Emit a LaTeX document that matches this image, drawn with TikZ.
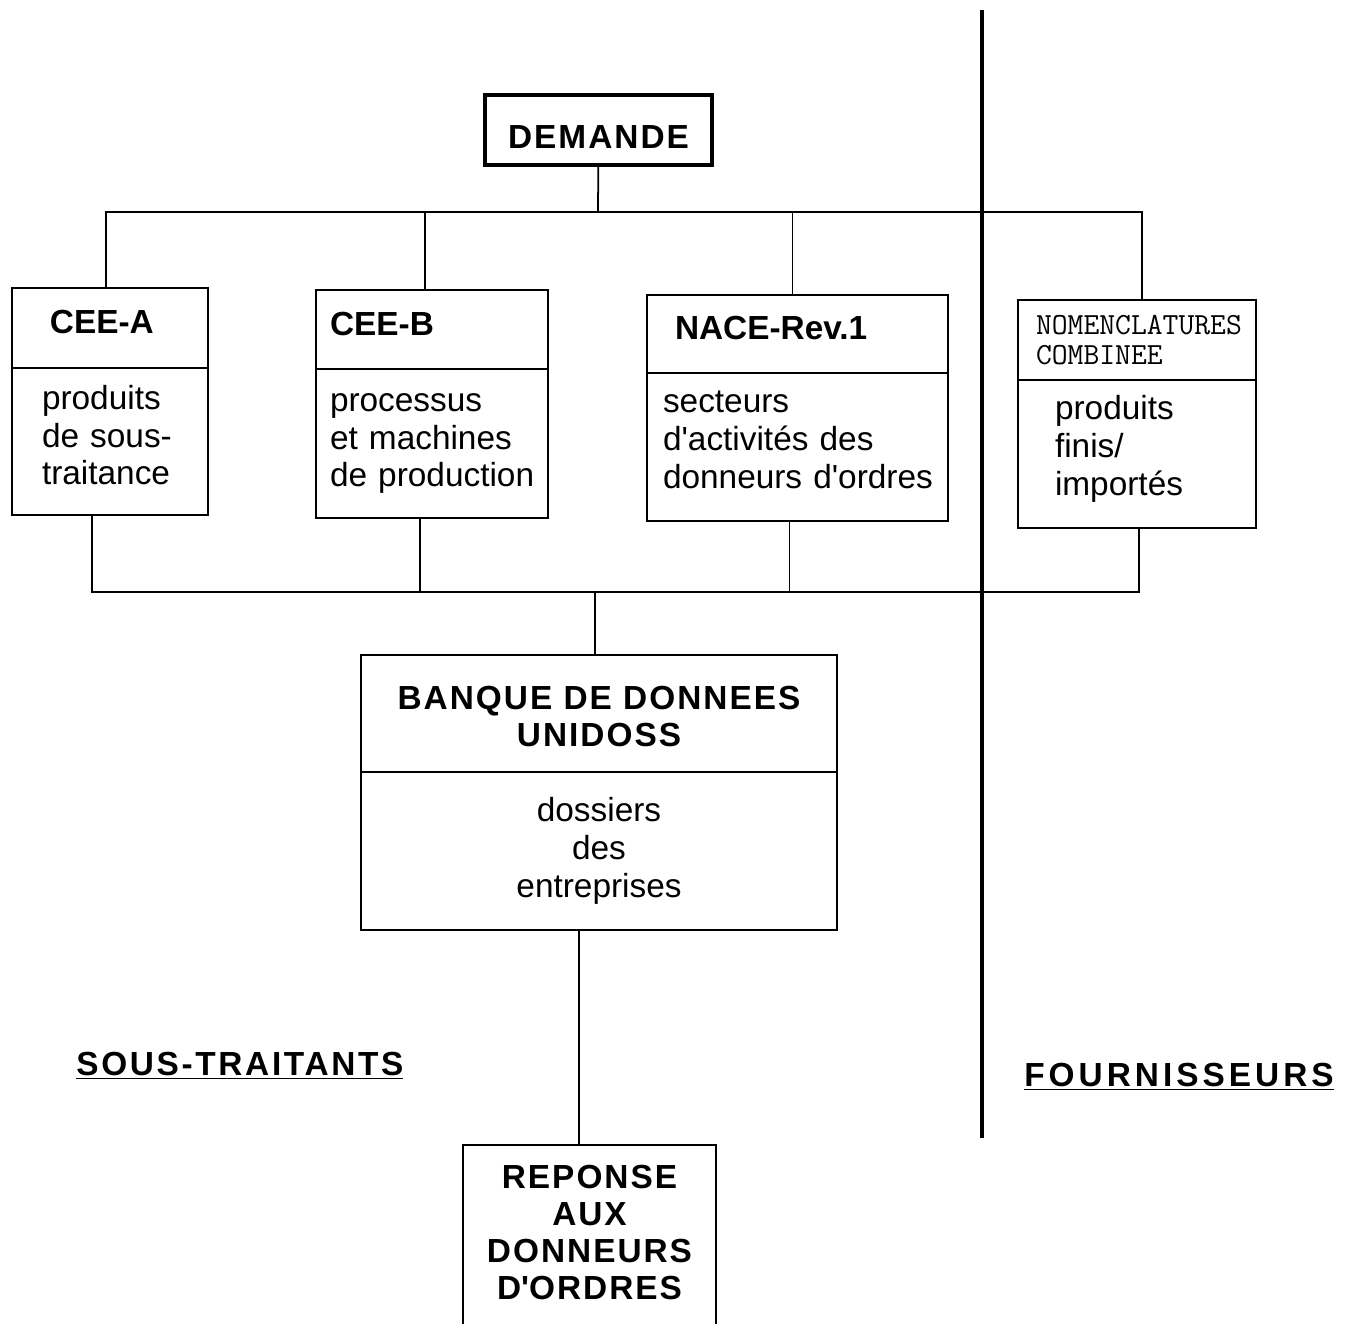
\documentclass[tikz,border=0pt]{standalone}
\usepackage{fontspec}
\setmainfont{Liberation Sans}
\usetikzlibrary{positioning, calc}
\hyphenpenalty=10000

\newcommand\titlefont{\bfseries\fontsize{19}{21.3}\selectfont}
\newcommand\bodyfont{\fontsize{19}{21.5}\selectfont}
\newcommand\capsfont{\bfseries\fontsize{19}{21}\selectfont\addfontfeatures{LetterSpace=6}}
\newcommand\nomfont{\ttfamily\fontsize{17.5}{17}\selectfont}
\newcommand\apo{\textquotesingle}

\tikzset{
  frame/.style={draw, line width=1pt, inner sep=0pt, outer sep=0pt},
  link/.style={line width=1pt},
}

\begin{document}
\begin{tikzpicture}[x=0.02cm, y=-0.02cm]
    % one unit is one pixel of the scan
    \def\pxl{0.02cm}
    \useasboundingbox (0,0) rectangle (1345,1324);

    % Request box on top
    \node[frame, line width=2pt, minimum width=227*\pxl, minimum height=70*\pxl, text height=20.5pt, font=\capsfont] (demande) at (598.5,130) {DEMANDE};

    % The four nomenclatures, head and body
    \node[frame, anchor=north west, minimum width=196*\pxl, minimum height=80*\pxl, text width=120*\pxl, text depth=7pt, align=left, font=\titlefont] (ceeA) at (12,288) {CEE-A};
    \node[frame, below=0pt of ceeA, minimum width=196*\pxl, minimum height=147*\pxl, text width=136*\pxl, text depth=50.5pt, align=left, font=\bodyfont] (ceeAtxt) {produits\\de~sous-\\traitance};

    \node[frame, anchor=north west, minimum width=232*\pxl, minimum height=79*\pxl, text width=204*\pxl, text depth=7pt, align=left, font=\titlefont] (ceeB) at (316,290) {CEE-B};
    \node[frame, below=0pt of ceeB, minimum width=232*\pxl, minimum height=149*\pxl, text width=204*\pxl, align=left, font=\bodyfont] (ceeBtxt) {processus\\et~machines\\de~production};

    \node[frame, anchor=north west, minimum width=301*\pxl, minimum height=78*\pxl, text width=245*\pxl, text depth=7pt, align=left, font=\titlefont] (nace) at (647,295) {NACE-Rev.1};
    \node[frame, below=0pt of nace, minimum width=301*\pxl, minimum height=148*\pxl, text width=269*\pxl, text depth=51pt, align=left, font=\bodyfont] (nacetxt) {secteurs\\d\apo activités~des\\donneurs~d\apo ordres};

    \node[frame, anchor=north west, minimum width=238*\pxl, minimum height=80*\pxl, text width=202*\pxl, align=left, font=\nomfont] (nom) at (1018,300) {NOMENCLATURES\\COMBINEE};
    \node[frame, below=0pt of nom, minimum width=238*\pxl, minimum height=148*\pxl, text width=164*\pxl, text depth=52.5pt, align=left, font=\bodyfont] (nomtxt) {produits\\finis/\\importés};

    % Data bank
    \node[frame, anchor=north west, minimum width=476*\pxl, minimum height=117*\pxl, text height=38pt, align=center, font=\capsfont] (banq) at (361,655) {BANQUE DE DONNEES\\UNIDOSS};
    \node[frame, below=0pt of banq, minimum width=476*\pxl, minimum height=158*\pxl, align=center, font=\bodyfont] (banqtxt) {dossiers\\des\\entreprises};

    % Answer box, open at the foot of the page
    \node[anchor=north, minimum width=253*\pxl, minimum height=174*\pxl, align=center, font=\capsfont] (reponse) at (589.5,1145) {REPONSE\\AUX\\DONNEURS\\D\apo ORDRES};
    \draw[link] ([yshift=-40*\pxl]reponse.south west) -- (reponse.north west) -- (reponse.north east) -- ([yshift=-40*\pxl]reponse.south east);

    % Branching from the request
    \coordinate (top) at (598,212);
    \draw[link] (demande) -- (top);
    \draw[link] ([xshift=-4*\pxl]ceeA.north) |- (top);
    \draw[link] ([xshift=-7*\pxl]ceeB.north) |- (top);
    \draw[link] ([xshift=-5*\pxl]nace.north) |- (top);
    \draw[link] ([xshift=5*\pxl]nom.north) |- (top);

    % Gathering towards the data bank
    \coordinate (low) at (595,592);
    \draw[link] ([xshift=-18*\pxl]ceeAtxt.south) |- (low);
    \draw[link] ([xshift=-12*\pxl]ceeBtxt.south) |- (low);
    \draw[link] ([xshift=-8*\pxl]nacetxt.south) |- (low);
    \draw[link] ([xshift=2*\pxl]nomtxt.south) |- (low);
    \draw[link] (low) -- (banq.north -| low);

    % Data bank to answer
    \coordinate (down) at (579,930);
    \draw[link] (down) -- (reponse.north -| down);

    % Dividing line
    \draw[line width=2.6pt] (982,10) -- (982,1138);

    % Side labels
    \node[anchor=west, inner sep=0pt, font=\capsfont\addfontfeatures{LetterSpace=8}] (sous) at (76,1066) {\underline{SOUS-TRAITANTS}};
    \node[anchor=west, inner sep=0pt, font=\capsfont\addfontfeatures{LetterSpace=12}] (fourn) at (1024,1077) {\underline{FOURNISSEURS}};

\end{tikzpicture}
\end{document}
